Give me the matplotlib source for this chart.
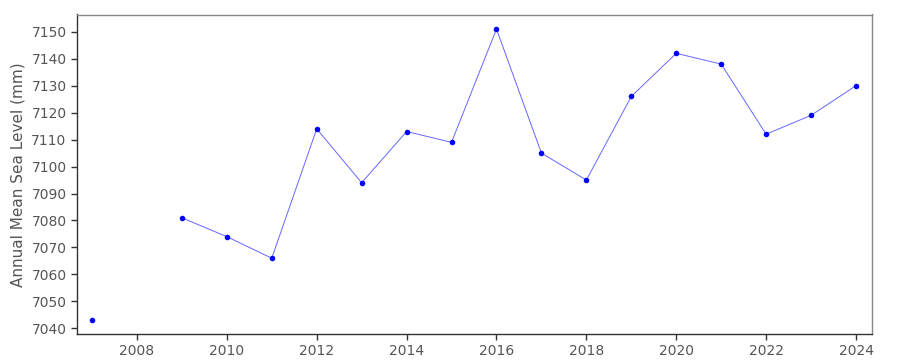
import matplotlib
matplotlib.use('Agg')
import matplotlib.pyplot as plt
import numpy as np

# Datos: nivel medio anual del mar (mm), 2008 sin dato
anios = [2007, 2008, 2009, 2010, 2011, 2012, 2013, 2014, 2015, 2016,
         2017, 2018, 2019, 2020, 2021, 2022, 2023, 2024]
nivel = [7043, np.nan, 7081, 7074, 7066, 7114, 7094, 7113, 7109, 7151,
         7105, 7095, 7126, 7142, 7138, 7112, 7119, 7130]

fig = plt.figure(figsize=(9, 3.6), dpi=100)
ax = fig.add_axes([77/900, 1 - 334/360, (872.5 - 77)/900, (334 - 14.5)/360])

ax.plot(anios, nivel, color='blue', lw=0.7, alpha=0.6)
ax.plot(anios, nivel, 'o', color='blue', ms=4, mec='none')

ax.set_xlim(2006.666, 2024.367)
ax.set_ylim(7037.9, 7156.4)
ax.set_xticks(np.arange(2008, 2025, 2))
ax.set_yticks(np.arange(7040, 7151, 10))

txt = '#555555'
ax.tick_params(colors='#333333', labelcolor=txt, labelsize=10, length=4, width=1)
ax.set_ylabel('Annual Mean Sea Level (mm)', fontsize=11, color=txt)

for s in ['left', 'bottom']:
    ax.spines[s].set_color('#333333')
    ax.spines[s].set_linewidth(1)
for s in ['top', 'right']:
    ax.spines[s].set_color('#888888')
    ax.spines[s].set_linewidth(1)

fig.savefig('out.png', dpi=100)
